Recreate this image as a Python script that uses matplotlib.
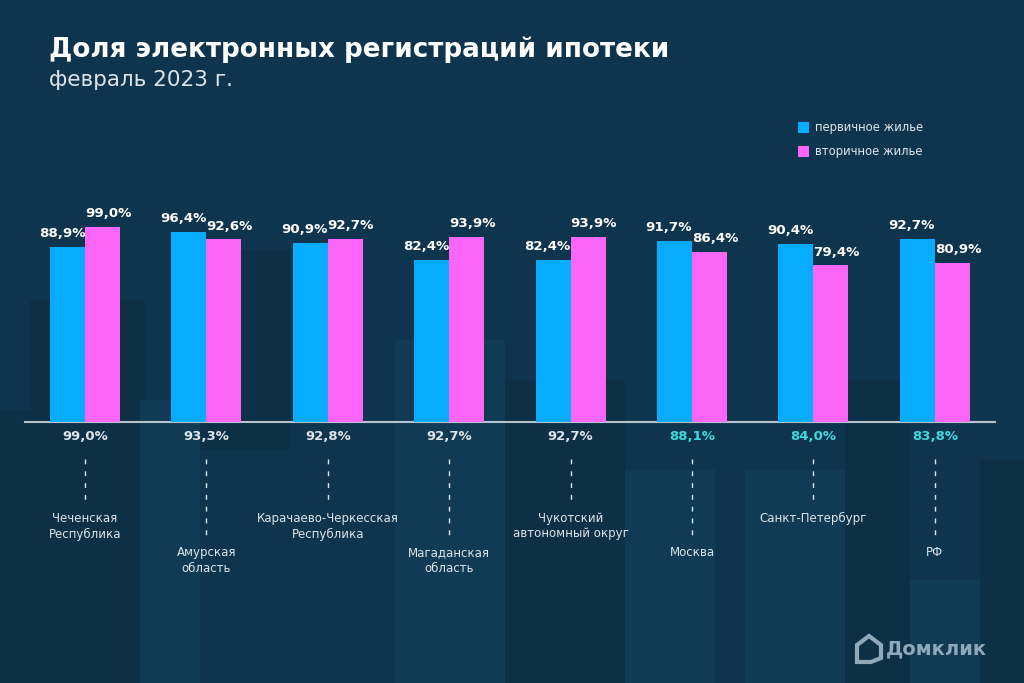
import numpy as np
import matplotlib.pyplot as plt
import matplotlib.patches as mpatches
from matplotlib.transforms import blended_transform_factory

plt.rcParams["font.family"] = ["DejaVu Sans"]

BG      = "#0f354e"
BG_DARK = "#0d3047"
BG_LITE = "#113a54"
BLUE    = "#07acff"
PINK    = "#fb66f6"
TEXT    = "#ffffff"
MUTED   = "#dde5ea"
CYAN    = "#3fd8de"
AXIS_C  = "#b8c4cc"
LOGO_C  = "#8fa8ba"

regions = ["Чеченская\nРеспублика", "Амурская\nобласть",
           "Карачаево-Черкесская\nРеспублика", "Магаданская\nобласть",
           "Чукотский\nавтономный округ", "Москва", "Санкт-Петербург", "РФ"]
primary   = [88.9, 96.4, 90.9, 82.4, 82.4, 91.7, 90.4, 92.7]
secondary = [99.0, 92.6, 92.7, 93.9, 93.9, 86.4, 79.4, 80.9]
total     = [99.0, 93.3, 92.8, 92.7, 92.7, 88.1, 84.0, 83.8]
low_label = [False, True, False, True, False, True, False, True]
highlight = [False, False, False, False, False, True, True, True]

W, H = 1024, 683


def fy(py):
    return 1 - py / H


def fx(px):
    return px / W


fig = plt.figure(figsize=(W / 100, H / 100), dpi=100)
fig.patch.set_facecolor(BG)

# декоративні прямокутники фону (ледь помітні)
for x0, y0, w, h, c in [(0, 410, 30, 273, BG_DARK), (30, 300, 115, 383, BG_DARK),
                        (140, 400, 60, 283, BG_LITE), (200, 250, 90, 200, BG_DARK),
                        (395, 340, 110, 343, BG_LITE), (505, 380, 120, 303, BG_DARK),
                        (625, 470, 90, 213, BG_LITE), (745, 470, 100, 213, BG_LITE),
                        (845, 380, 65, 303, BG_DARK), (910, 580, 70, 103, BG_LITE),
                        (980, 460, 44, 223, BG_DARK)]:
    fig.patches.append(mpatches.Rectangle((fx(x0), fy(y0 + h)), w / W, h / H,
                                          transform=fig.transFigure, color=c,
                                          zorder=-5, lw=0))

# осі: базова лінія на y=422 px, 100% ≈ 197 px
ax_left, ax_right = 25, 995
c0, step = 85, 121.4
ax = fig.add_axes([fx(ax_left), fy(422), (ax_right - ax_left) / W, 207 / H])
ax.set_facecolor("none")
ax.set_xlim((ax_left - c0) / step, (ax_right - c0) / step)
ax.set_ylim(0, 105)
for s in ["top", "right", "left"]:
    ax.spines[s].set_visible(False)
ax.spines["bottom"].set_color(AXIS_C)
ax.spines["bottom"].set_linewidth(1.5)
ax.set_xticks([])
ax.set_yticks([])

x = np.arange(len(regions))
bw = 35 / step
ax.bar(x - bw / 2, primary, width=bw, color=BLUE, zorder=3)
ax.bar(x + bw / 2, secondary, width=bw, color=PINK, zorder=3)

for i in x:
    ax.annotate(f"{primary[i]:.1f}%".replace(".", ","), (i - bw / 2, primary[i]),
                textcoords="offset points", xytext=(-4, 5), ha="center", va="bottom",
                color=TEXT, fontsize=9.6, fontweight="semibold")
    ax.annotate(f"{secondary[i]:.1f}%".replace(".", ","), (i + bw / 2, secondary[i]),
                textcoords="offset points", xytext=(4, 5), ha="center", va="bottom",
                color=TEXT, fontsize=9.6, fontweight="semibold")

trans = blended_transform_factory(ax.transData, fig.transFigure)
for i in x:
    ax.text(i, fy(437), f"{total[i]:.1f}%".replace(".", ","), transform=trans,
            ha="center", va="center", fontsize=9.5, fontweight="semibold",
            color=CYAN if highlight[i] else MUTED)
    y_end = 540 if low_label[i] else 505
    ax.plot([i, i], [fy(459), fy(y_end)], transform=trans, color=MUTED, lw=1,
            ls=(0, (3.5, 5)), clip_on=False)
    y_lab = 553 if low_label[i] else 519
    ax.text(i, fy(y_lab - 7), regions[i], transform=trans, ha="center", va="top",
            fontsize=8.5, color=MUTED, linespacing=1.25)

# заголовок
fig.text(fx(49), fy(50), "Доля электронных регистраций ипотеки", ha="left",
         va="center", fontsize=18.8, fontweight="bold", color=TEXT)
fig.text(fx(49), fy(80), "февраль 2023 г.", ha="left", va="center",
         fontsize=15.5, color=MUTED)

# легенда
for py, col, lab in [(127, BLUE, "первичное жилье"), (151, PINK, "вторичное жилье")]:
    fig.patches.append(mpatches.Rectangle((fx(798), fy(py + 5.5)), 11 / W, 11 / H,
                                          transform=fig.transFigure, color=col, lw=0))
    fig.text(fx(815), fy(py), lab, ha="left", va="center", fontsize=8.4, color=MUTED)

# логотип
house = np.array([[857, 662], [857, 645], [869, 636], [881, 645], [881, 658],
                  [871, 662]])
fig.patches.append(mpatches.Polygon(np.c_[house[:, 0] / W, 1 - house[:, 1] / H],
                                    closed=True, transform=fig.transFigure,
                                    fill=False, edgecolor=LOGO_C, lw=3))
fig.text(fx(886), fy(649), "Домклик", ha="left", va="center", fontsize=14,
         fontweight="bold", color=LOGO_C)

fig.savefig("out.png", dpi=100, facecolor=BG)
